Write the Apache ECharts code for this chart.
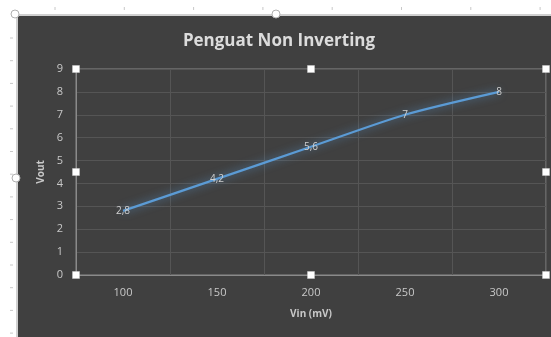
<!DOCTYPE html>
<html>
<head>
<meta charset="utf-8">
<script src="https://cdn.jsdelivr.net/npm/echarts@6/dist/echarts.min.js"></script>
<style>
  html, body { margin: 0; padding: 0; background: #ffffff; overflow: hidden; }
  #panel {
    position: absolute; left: 16px; top: 14px; width: 540px; height: 330px;
    background: #404040; border-left: 2px solid #d0d0d0; border-top: 2px solid #d0d0d0;
  }
  #chart { position: absolute; left: 0; top: 0; width: 551px; height: 337px; }
</style>
</head>
<body>
<div id="panel"></div>
<div id="chart"></div>
<script>
// Input voltage (mV) on the category axis, output voltage on the value axis
const vinLabels = ['100', '150', '200', '250', '300'];
const voutValues = [2.8, 4.2, 5.6, 7, 8];
const yTicks = { min: 0, max: 9, step: 1 };

// Plot-area layout
const plot = { left: 76, right: 5, top: 69, bottom: 62 };
const W = 551, H = 337;

const textColor = '#c8c8c8';
const font = '"Open Sans", "Liberation Sans", sans-serif';

// Selection handles around the plot area and chart area
function handles() {
  const x0 = plot.left, x1 = W - plot.right, y0 = plot.top, y1 = H - plot.bottom;
  const xm = (x0 + x1) / 2, ym = (y0 + y1) / 2;
  const pts = [[x0, y0], [xm, y0], [x1, y0], [x0, ym], [x1, ym], [x0, y1], [xm, y1], [x1, y1]];
  const els = pts.map(p => ({
    type: 'rect', z: 100,
    shape: { x: p[0] - 3.5, y: p[1] - 3.5, width: 7, height: 7 },
    style: { fill: '#ffffff', stroke: '#cfcfcf', lineWidth: 0.5 }
  }));
  [[15, 14], [276, 14], [16, 178]].forEach(p => els.push({
    type: 'circle', z: 100,
    shape: { cx: p[0], cy: p[1], r: 4 },
    style: { fill: '#ffffff', stroke: '#b0b0b0', lineWidth: 1 }
  }));
  // ruler ticks in the white margin
  for (let y = 38; y < H; y += 22.7) {
    els.push({ type: 'line', shape: { x1: 10, y1: y, x2: 13, y2: y }, style: { stroke: '#c8c8c8', lineWidth: 1 } });
  }
  for (let x = 55; x < W; x += 69.3) {
    els.push({ type: 'line', shape: { x1: x, y1: 7, x2: x, y2: 10 }, style: { stroke: '#c8c8c8', lineWidth: 1 } });
  }
  return els;
}

const chart = echarts.init(document.getElementById('chart'), null, { renderer: 'canvas' });
chart.setOption({
  backgroundColor: 'transparent',
  animation: false,
  title: {
    text: 'Penguat Non Inverting',
    left: 274, top: 28, textAlign: 'center',
    textStyle: { color: '#dcdcdc', fontSize: 17, fontWeight: 'bold', fontFamily: font }
  },
  grid: {
    left: plot.left, right: plot.right, top: plot.top, bottom: plot.bottom,
    show: true, borderColor: '#8a8a8a', borderWidth: 1
  },
  xAxis: {
    type: 'category',
    data: vinLabels,
    boundaryGap: true,
    name: 'Vin (mV)',
    nameLocation: 'middle',
    nameGap: 34,
    nameTextStyle: { color: textColor, fontSize: 10, fontWeight: 'bold', fontFamily: font },
    axisLine: { show: true, lineStyle: { color: '#8a8a8a', width: 1 } },
    axisTick: { show: false },
    axisLabel: { color: textColor, fontSize: 11, margin: 12, fontFamily: font },
    splitLine: { show: true, lineStyle: { color: '#555555', width: 1 } }
  },
  yAxis: {
    type: 'value',
    min: yTicks.min, max: yTicks.max, interval: yTicks.step,
    name: 'Vout',
    nameLocation: 'middle',
    nameGap: 27,
    nameRotate: 90,
    nameTextStyle: { color: textColor, fontSize: 10, fontWeight: 'bold', fontFamily: font },
    axisLine: { show: true, lineStyle: { color: '#8a8a8a', width: 1 } },
    axisTick: { show: false },
    axisLabel: { color: textColor, fontSize: 11, margin: 13, fontFamily: font },
    splitLine: { show: true, lineStyle: { color: '#555555', width: 1 } }
  },
  series: [{
    type: 'line',
    data: voutValues,
    smooth: 0.25,
    symbol: 'circle',
    symbolSize: 1,
    showSymbol: true,
    itemStyle: { color: 'rgba(0,0,0,0)' },
    lineStyle: {
      color: '#5b9bd5', width: 2.2,
      shadowColor: 'rgba(91,155,213,0.75)', shadowBlur: 9
    },
    label: {
      show: true,
      position: 'inside',
      color: '#d0d0d0',
      fontSize: 10,
      fontFamily: font,
      formatter: p => String(p.value).replace('.', ',')
    }
  }],
  graphic: handles()
});
</script>
</body>
</html>
